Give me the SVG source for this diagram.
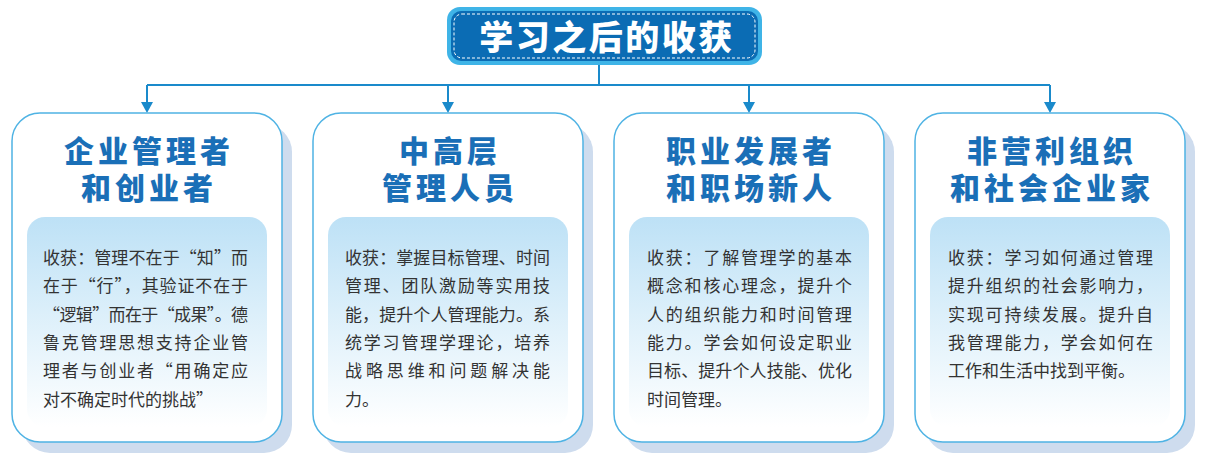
<svg xmlns="http://www.w3.org/2000/svg" width="1216" height="457" viewBox="0 0 1216 457">
<style>
.card{fill:#ffffff;stroke:#4fb3e4;stroke-width:1.5}
.shadow{fill:#cedcee}
.inner{fill:url(#ig)}
.head{font-family:"Noto Sans CJK SC","Noto Sans",sans-serif;font-weight:900;font-size:30px;fill:#1a6fb7;letter-spacing:4px;text-anchor:middle}
.body{font-family:"Noto Sans CJK SC","Noto Sans",sans-serif;font-size:17px;fill:#333333}
.conn{fill:none;stroke:#1a8acb;stroke-width:2}
.ttl{font-family:"Noto Sans CJK SC","Noto Sans",sans-serif;font-weight:900;font-size:34px;fill:#ffffff;letter-spacing:2.5px;text-anchor:middle}
</style>
<defs>
<linearGradient id="ig" x1="0" y1="0" x2="0" y2="1">
<stop offset="0" stop-color="#bde1f6"/>
<stop offset="0.55" stop-color="#e2f2fb"/>
<stop offset="1" stop-color="#ffffff"/>
</linearGradient>
</defs>
<rect width="1216" height="457" fill="#ffffff"/>

<g id="connectors">
<path class="conn" d="M599 65 V85 M147 85 H1050"/>
<path class="conn" d="M147 85 V103"/>
<path class="conn" d="M448 85 V103"/>
<path class="conn" d="M749 85 V103"/>
<path class="conn" d="M1050 85 V103"/>
<path d="M141 102 H153 L147 113 Z" fill="#1a8acb"/>
<path d="M442 102 H454 L448 113 Z" fill="#1a8acb"/>
<path d="M743 102 H755 L749 113 Z" fill="#1a8acb"/>
<path d="M1044 102 H1056 L1050 113 Z" fill="#1a8acb"/>
</g>

<g id="title">
<rect x="447" y="7" width="315" height="58" rx="13" fill="#3fb4e7"/>
<rect x="451" y="11" width="307" height="50" rx="10" fill="#0b6cb4"/>
<rect x="454" y="14" width="301" height="44" rx="8" fill="none" stroke="#ffffff" stroke-width="1" stroke-dasharray="3 2"/>
<text class="ttl" x="607" y="50">学习之后的收获</text>
</g>

<g id="card1">
<rect class="shadow" x="22" y="124" width="270" height="329" rx="28"/>
<rect class="card" x="12" y="113" width="270" height="329" rx="28"/>
<text class="head" x="149" y="162">企业管理者</text>
<text class="head" x="149" y="199">和创业者</text>
<rect class="inner" x="27" y="217" width="240" height="210" rx="18"/>
<text class="body" x="43" y="264" textLength="205" lengthAdjust="spacing">收获：管理不在于“知”而</text>
<text class="body" x="43" y="292" textLength="205" lengthAdjust="spacing">在于“行”，其验证不在于</text>
<text class="body" x="43" y="321" textLength="205" lengthAdjust="spacing">“逻辑”而在于“成果”。德</text>
<text class="body" x="43" y="349" textLength="205" lengthAdjust="spacing">鲁克管理思想支持企业管</text>
<text class="body" x="43" y="377" textLength="205" lengthAdjust="spacing">理者与创业者“用确定应</text>
<text class="body" x="43" y="406">对不确定时代的挑战”</text>
</g>

<g id="card2">
<rect class="shadow" x="323" y="124" width="270" height="329" rx="28"/>
<rect class="card" x="313" y="113" width="270" height="329" rx="28"/>
<text class="head" x="450" y="162">中高层</text>
<text class="head" x="450" y="199">管理人员</text>
<rect class="inner" x="328" y="217" width="240" height="210" rx="18"/>
<text class="body" x="345" y="264" textLength="205" lengthAdjust="spacing">收获：掌握目标管理、时间</text>
<text class="body" x="345" y="292" textLength="205" lengthAdjust="spacing">管理、团队激励等实用技</text>
<text class="body" x="345" y="321" textLength="205" lengthAdjust="spacing">能，提升个人管理能力。系</text>
<text class="body" x="345" y="349" textLength="205" lengthAdjust="spacing">统学习管理学理论，培养</text>
<text class="body" x="345" y="377" textLength="205" lengthAdjust="spacing">战略思维和问题解决能</text>
<text class="body" x="345" y="406">力。</text>
</g>

<g id="card3">
<rect class="shadow" x="624" y="124" width="270" height="329" rx="28"/>
<rect class="card" x="614" y="113" width="270" height="329" rx="28"/>
<text class="head" x="751" y="162">职业发展者</text>
<text class="head" x="751" y="199">和职场新人</text>
<rect class="inner" x="629" y="217" width="240" height="210" rx="18"/>
<text class="body" x="647" y="264" textLength="205" lengthAdjust="spacing">收获：了解管理学的基本</text>
<text class="body" x="647" y="292" textLength="205" lengthAdjust="spacing">概念和核心理念，提升个</text>
<text class="body" x="647" y="321" textLength="205" lengthAdjust="spacing">人的组织能力和时间管理</text>
<text class="body" x="647" y="349" textLength="205" lengthAdjust="spacing">能力。学会如何设定职业</text>
<text class="body" x="647" y="377" textLength="205" lengthAdjust="spacing">目标、提升个人技能、优化</text>
<text class="body" x="647" y="406">时间管理。</text>
</g>

<g id="card4">
<rect class="shadow" x="925" y="124" width="270" height="329" rx="28"/>
<rect class="card" x="915" y="113" width="270" height="329" rx="28"/>
<text class="head" x="1052" y="162">非营利组织</text>
<text class="head" x="1052" y="199">和社会企业家</text>
<rect class="inner" x="930" y="217" width="240" height="210" rx="18"/>
<text class="body" x="948" y="264" textLength="205" lengthAdjust="spacing">收获：学习如何通过管理</text>
<text class="body" x="948" y="292" textLength="205" lengthAdjust="spacing">提升组织的社会影响力，</text>
<text class="body" x="948" y="321" textLength="205" lengthAdjust="spacing">实现可持续发展。提升自</text>
<text class="body" x="948" y="349" textLength="205" lengthAdjust="spacing">我管理能力，学会如何在</text>
<text class="body" x="948" y="377">工作和生活中找到平衡。</text>
</g>
</svg>
